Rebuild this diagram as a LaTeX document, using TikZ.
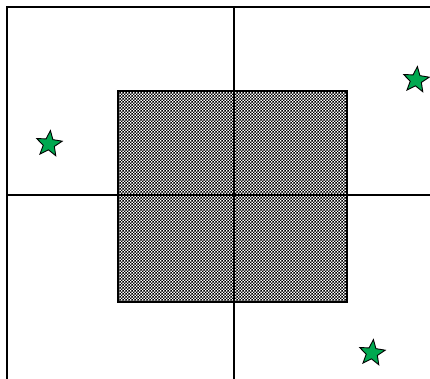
\documentclass[tikz,border=0pt]{standalone}
\usetikzlibrary{patterns,shapes.geometric}
\definecolor{stargreen}{RGB}{0,168,80}
\pgfdeclarepatternformonly{finecheck}{\pgfpointorigin}{\pgfqpoint{3.4pt}{3.4pt}}{\pgfqpoint{3.4pt}{3.4pt}}{%
  \pgfpathrectangle{\pgfpointorigin}{\pgfqpoint{1.7pt}{1.7pt}}%
  \pgfpathrectangle{\pgfqpoint{1.7pt}{1.7pt}}{\pgfqpoint{1.7pt}{1.7pt}}%
  \pgfusepath{fill}}
\tikzset{
  frameline/.style={line width=2.6pt,black},
  gridline/.style={line width=2.2pt,black},
  starmark/.style={star,star points=5,star point ratio=2.3,minimum size=27pt,inner sep=0pt,fill=stargreen,draw=black,line width=0.9pt,rotate=-6}
}
\begin{document}
\begin{tikzpicture}[x=1pt,y=1pt]
\useasboundingbox (0,0) rectangle (430,379);
% frame (open at right and bottom)
\draw[frameline] (7,0) -- (7,372) -- (432,372);
% shaded block
\draw[line width=2.6pt,pattern=finecheck,pattern color=black] (118,77) rectangle (347,288);
% dividing lines
\draw[gridline] (234,372) -- (234,0);
\draw[gridline] (7,184) -- (432,184);
% stars
\node[starmark] (s1) at (49,235) {};
\node[starmark] (s2) at (416,299) {};
\node[starmark] (s3) at (372,26) {};
\end{tikzpicture}
\end{document}
